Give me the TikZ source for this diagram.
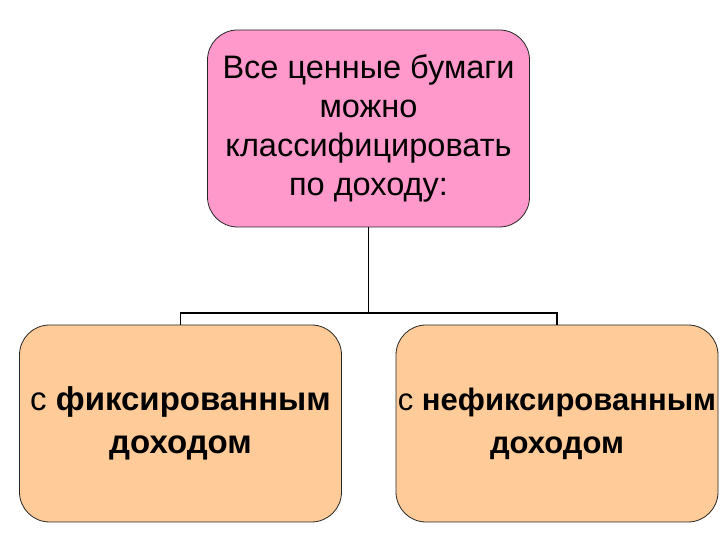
\documentclass[tikz,border=0pt]{standalone}
\usepackage{fontspec}
\setmainfont{Liberation Sans}
\usepackage{xcolor}
\usetikzlibrary{positioning,calc}
\definecolor{rosebox}{RGB}{255,153,204}
\definecolor{peachbox}{RGB}{255,204,153}

\begin{document}
\begin{tikzpicture}[x=1pt, y=1pt,
  kind/.style={draw=black!85, line width=0.8pt, rounded corners=30pt,
    minimum width=322pt, minimum height=197pt, align=center,
    inner sep=0pt},
  top/.style={kind, fill=rosebox, font=\fontsize{32.5}{39}\selectfont},
  leaf/.style={kind, fill=peachbox, font=\fontsize{33}{43}\selectfont},
  link/.style={line width=1.5pt, black},
]
  \useasboundingbox (0,0) rectangle (720,540);

  % Root and the two classes
  \node[top] (root) at (368.5, 411.5)
    {Все ценные бумаги\\можно\\классифицировать\\по доходу:};
  \node[leaf] (fixed) at (180.5, 116.5)
    {с \textbf{фиксированным}\\\textbf{доходом}};
  \node[leaf, font=\fontsize{31}{43}\selectfont] (float) at (557, 116.5)
    {с \textbf{нефиксированным}\\\textbf{доходом}};

  % Tree connectors
  \coordinate (split) at (root.south |- 0,227);
  \draw[link] (root.south) -- (split);
  \draw[link] (fixed.north) |- (split) -| (float.north);
\end{tikzpicture}
\end{document}
